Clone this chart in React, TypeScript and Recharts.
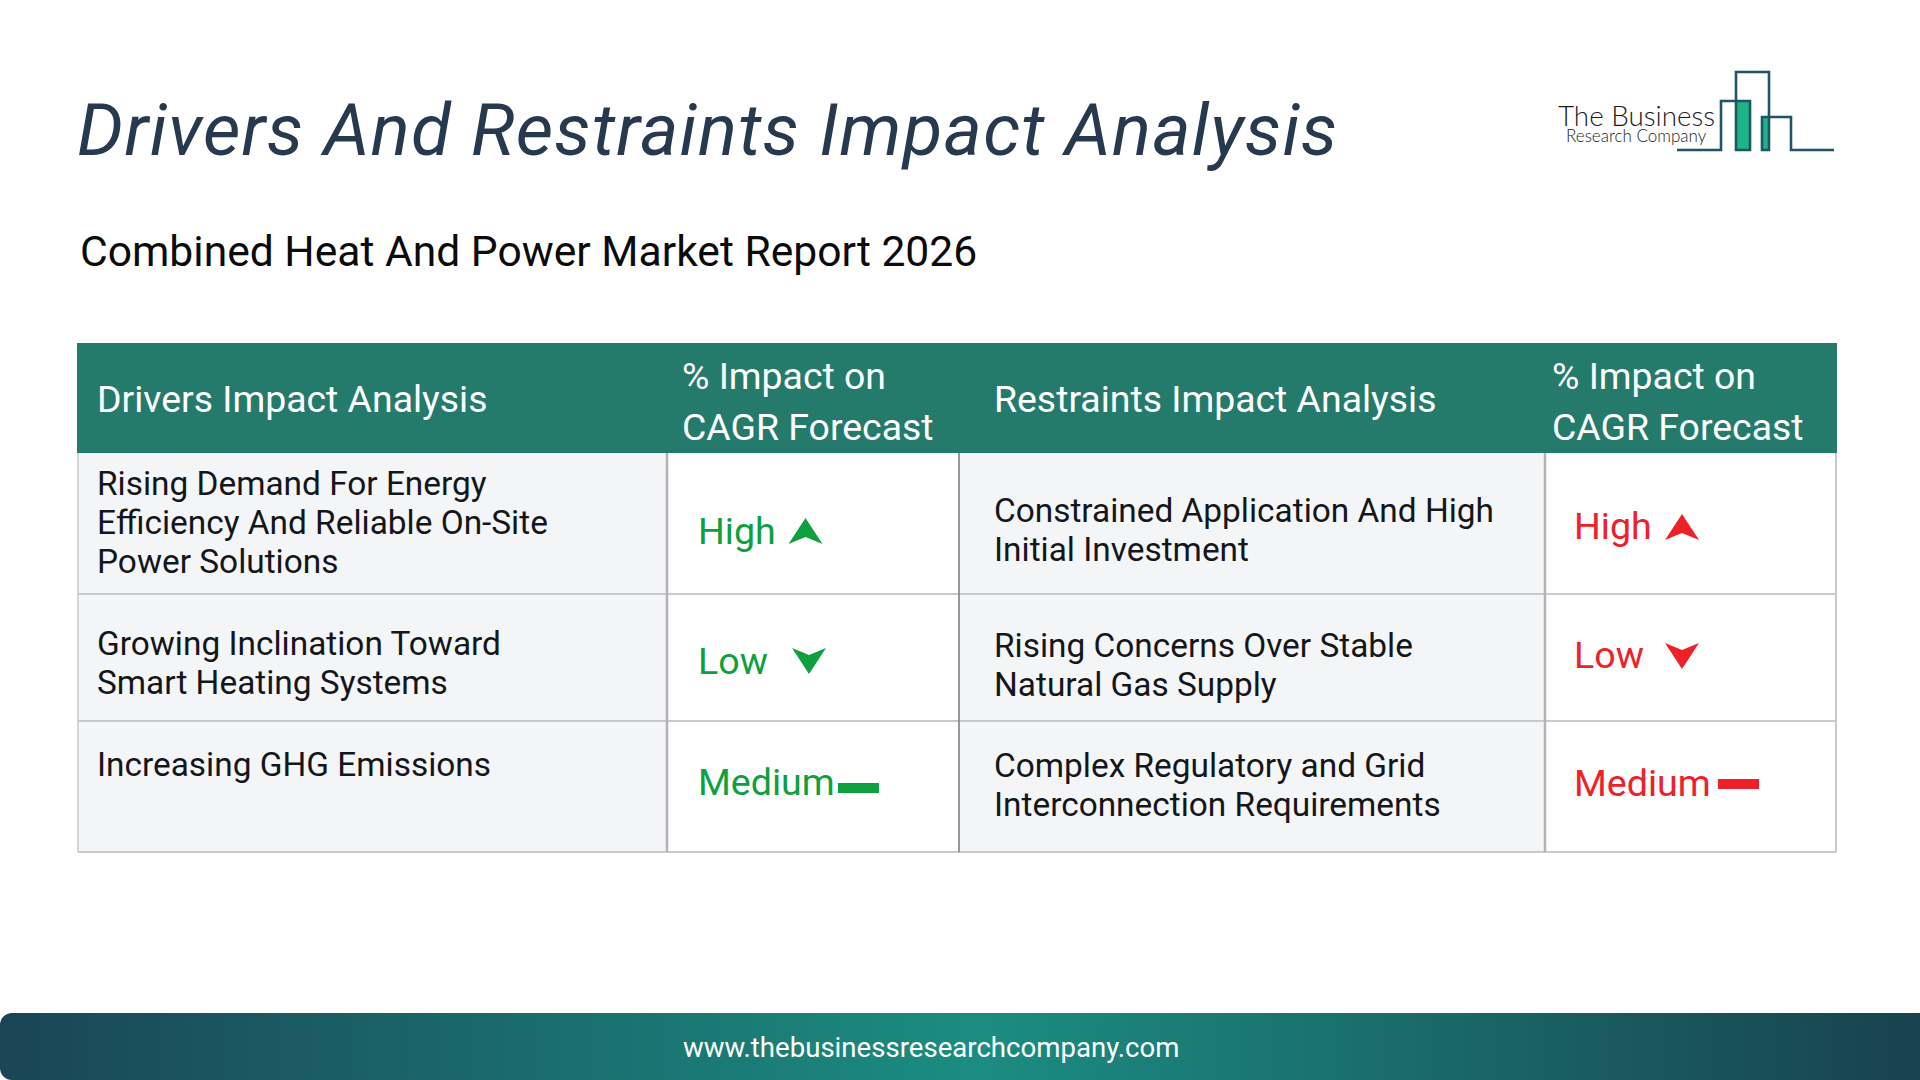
import { ComposedChart, XAxis, YAxis, Scatter, ReferenceArea, ReferenceLine } from "recharts";

const FONT = "Roboto, sans-serif";
const WIDTH = 1920;
const HEIGHT = 1080;

const title = "Drivers And Restraints Impact Analysis";
const subtitle = "Combined Heat And Power Market Report 2026";
const website = "www.thebusinessresearchcompany.com";

const headerLabels = [["Drivers Impact Analysis"], ["% Impact on", "CAGR Forecast"], ["Restraints Impact Analysis"], ["% Impact on", "CAGR Forecast"]];
const driverLabels = [
  ["Rising Demand For Energy", "Efficiency And Reliable On-Site", "Power Solutions"],
  ["Growing Inclination Toward", "Smart Heating Systems"],
  ["Increasing GHG Emissions"],
];
const driverImpacts = ["High", "Low", "Medium"];
const restraintLabels = [
  ["Constrained Application And High", "Initial Investment"],
  ["Rising Concerns Over Stable", "Natural Gas Supply"],
  ["Complex Regulatory and Grid", "Interconnection Requirements"],
];
const restraintImpacts = ["High", "Low", "Medium"];

// table layout, in page pixels
const colEdges = [78, 667, 959, 1545, 1836];
const rowEdges = [343, 453, 594, 721, 852];
const textX = [97, 682, 994, 1552];
const headerLines = [[389 + 23], [389, 440], [412], [389, 440]];
const driverLines = [[495, 534, 573], [655, 694], [776]];
const restraintLines = [[522, 561], [657, 696], [777, 816]];
const driverImpactY = [544, 674, 795];
const restraintImpactY = [539, 668, 796];
const driverMarkX = [805.5, 809, 838];
const restraintMarkX = [1682, 1682, 1718];
const driverMarkY = [544, 674, 793];
const restraintMarkY = [540, 669, 789];

const GREEN = "#0EA03F";
const RED = "#EE2028";
const INK = "#14161A";

const textRows = (lines: string[][], ys: number[][], x: number, size: number, color: string) =>
  lines.flatMap((cell, i) => cell.map((text, j) => ({ x, y: ys[i][j], text, size, color })));

const headerRows = headerLabels.flatMap((cell, i) =>
  cell.map((text, j) => ({ x: textX[i], y: headerLines[i][j], text, size: 37.4, color: "#FFFFFF" })),
);
const cellRows = [
  ...textRows(driverLabels, driverLines, textX[0], 33.4, INK),
  ...textRows(restraintLabels, restraintLines, textX[2], 33.4, INK),
];
const pageRows = [
  { x: 77, y: 155, text: title, size: 72.8, color: "#26394F", italic: true, spacing: 1.2 },
  { x: 80, y: 266, text: subtitle, size: 42.6, color: "#0B0B0B" },
  { x: 683, y: 1057, text: website, size: 27.6, color: "#FFFFFF" },
];
const impactRows = [
  ...driverImpacts.map((text, i) => ({ x: 698, y: driverImpactY[i], text, size: 37.6, color: GREEN })),
  ...restraintImpacts.map((text, i) => ({ x: 1574, y: restraintImpactY[i], text, size: 37.6, color: RED })),
];
const markRows = [
  ...driverImpacts.map((level, i) => ({ x: driverMarkX[i], y: driverMarkY[i], level, color: GREEN })),
  ...restraintImpacts.map((level, i) => ({ x: restraintMarkX[i], y: restraintMarkY[i], level, color: RED })),
];

function TextMark(props: any) {
  const { cx, cy, payload } = props;
  return (
    <text
      x={cx}
      y={cy}
      fontFamily={FONT}
      fontSize={payload.size}
      fill={payload.color}
      fontStyle={payload.italic ? "italic" : "normal"}
      letterSpacing={payload.spacing}
    >
      {payload.text}
    </text>
  );
}

function ImpactMark(props: any) {
  const { cx, cy, payload } = props;
  if (payload.level === "High") {
    return <path d={`M${cx} ${cy - 26}L${cx + 17} ${cy}L${cx} ${cy - 7}L${cx - 17} ${cy}Z`} fill={payload.color} />;
  }
  if (payload.level === "Low") {
    return <path d={`M${cx - 17} ${cy - 26}L${cx} ${cy - 19}L${cx + 17} ${cy - 26}L${cx} ${cy}Z`} fill={payload.color} />;
  }
  return <rect x={cx} y={cy - 10} width={41} height={10} fill={payload.color} />;
}

function Logo(props: any) {
  const { cx, cy } = props;
  const teal = "#1F5663";
  return (
    <g transform={`translate(${cx} ${cy})`}>
      <rect x={237} y={61} width={13} height={49} fill="#1DB586" />
      <rect x={263} y={78} width={6} height={32} fill="#1DB586" />
      <path
        d="M177 110H221V61H250V110H236V32H269V110H262V77H291V110H334"
        fill="none"
        stroke={teal}
        strokeWidth={2.6}
      />
      <text x={58} y={86} fontFamily="Lato, sans-serif" fontWeight={300} fontSize={27.8} fill="#1B1B1B">
        The Business
      </text>
      <text x={66} y={102} fontFamily="Lato, sans-serif" fontWeight={300} fontSize={17} fill="#1B1B1B">
        Research Company
      </text>
    </g>
  );
}

export default function App() {
  return (
    <div style={{ position: "fixed", left: 0, top: 0, width: WIDTH, height: HEIGHT, background: "#FFFFFF" }}>
      <ComposedChart width={WIDTH} height={HEIGHT} margin={{ top: 0, right: 0, bottom: 0, left: 0 }} data={[]}>
        <defs>
          <linearGradient id="banner" x1="0" y1="0" x2="1" y2="0">
            <stop offset="0" stopColor="#1A4555" />
            <stop offset="0.51" stopColor="#1B8D80" />
            <stop offset="1" stopColor="#18424F" />
          </linearGradient>
        </defs>
        <XAxis type="number" dataKey="x" domain={[0, WIDTH]} hide />
        <YAxis type="number" dataKey="y" domain={[0, HEIGHT]} reversed hide />

        <ReferenceArea x1={colEdges[0] - 1} x2={colEdges[4] + 1} y1={rowEdges[0]} y2={rowEdges[1]} fill="#257B6B" fillOpacity={1} />
        <ReferenceArea x1={colEdges[0]} x2={colEdges[1]} y1={rowEdges[1]} y2={rowEdges[4]} fill="#F3F5F7" fillOpacity={1} />
        <ReferenceArea x1={colEdges[2]} x2={colEdges[3]} y1={rowEdges[1]} y2={rowEdges[4]} fill="#F3F5F7" fillOpacity={1} />
        <ReferenceArea
          x1={0}
          x2={WIDTH}
          y1={1013}
          y2={HEIGHT}
          fill="url(#banner)"
          fillOpacity={1}
          radius={[12, 0, 0, 12]}
        />

        {rowEdges.slice(2).map((y) => (
          <ReferenceLine
            key={y}
            segment={[{ x: colEdges[0], y }, { x: colEdges[4], y }]}
            stroke="#C8C9CC"
            strokeWidth={2}
          />
        ))}
        <ReferenceLine segment={[{ x: colEdges[0], y: rowEdges[1] }, { x: colEdges[0], y: rowEdges[4] }]} stroke="#C8C9CC" strokeWidth={1.5} />
        <ReferenceLine segment={[{ x: colEdges[1], y: rowEdges[1] }, { x: colEdges[1], y: rowEdges[4] }]} stroke="#B2B3B6" strokeWidth={2.5} />
        <ReferenceLine segment={[{ x: colEdges[2], y: rowEdges[1] }, { x: colEdges[2], y: rowEdges[4] }]} stroke="#77787B" strokeWidth={1.5} />
        <ReferenceLine segment={[{ x: colEdges[3], y: rowEdges[1] }, { x: colEdges[3], y: rowEdges[4] }]} stroke="#B2B3B6" strokeWidth={2.5} />
        <ReferenceLine segment={[{ x: colEdges[4], y: rowEdges[1] }, { x: colEdges[4], y: rowEdges[4] }]} stroke="#C8C9CC" strokeWidth={2} />

        <Scatter data={pageRows} shape={TextMark} isAnimationActive={false} />
        <Scatter data={headerRows} shape={TextMark} isAnimationActive={false} />
        <Scatter data={cellRows} shape={TextMark} isAnimationActive={false} />
        <Scatter data={impactRows} shape={TextMark} isAnimationActive={false} />
        <Scatter data={markRows} shape={ImpactMark} isAnimationActive={false} />
        <Scatter data={[{ x: 1500, y: 40 }]} shape={Logo} isAnimationActive={false} />
      </ComposedChart>
    </div>
  );
}
